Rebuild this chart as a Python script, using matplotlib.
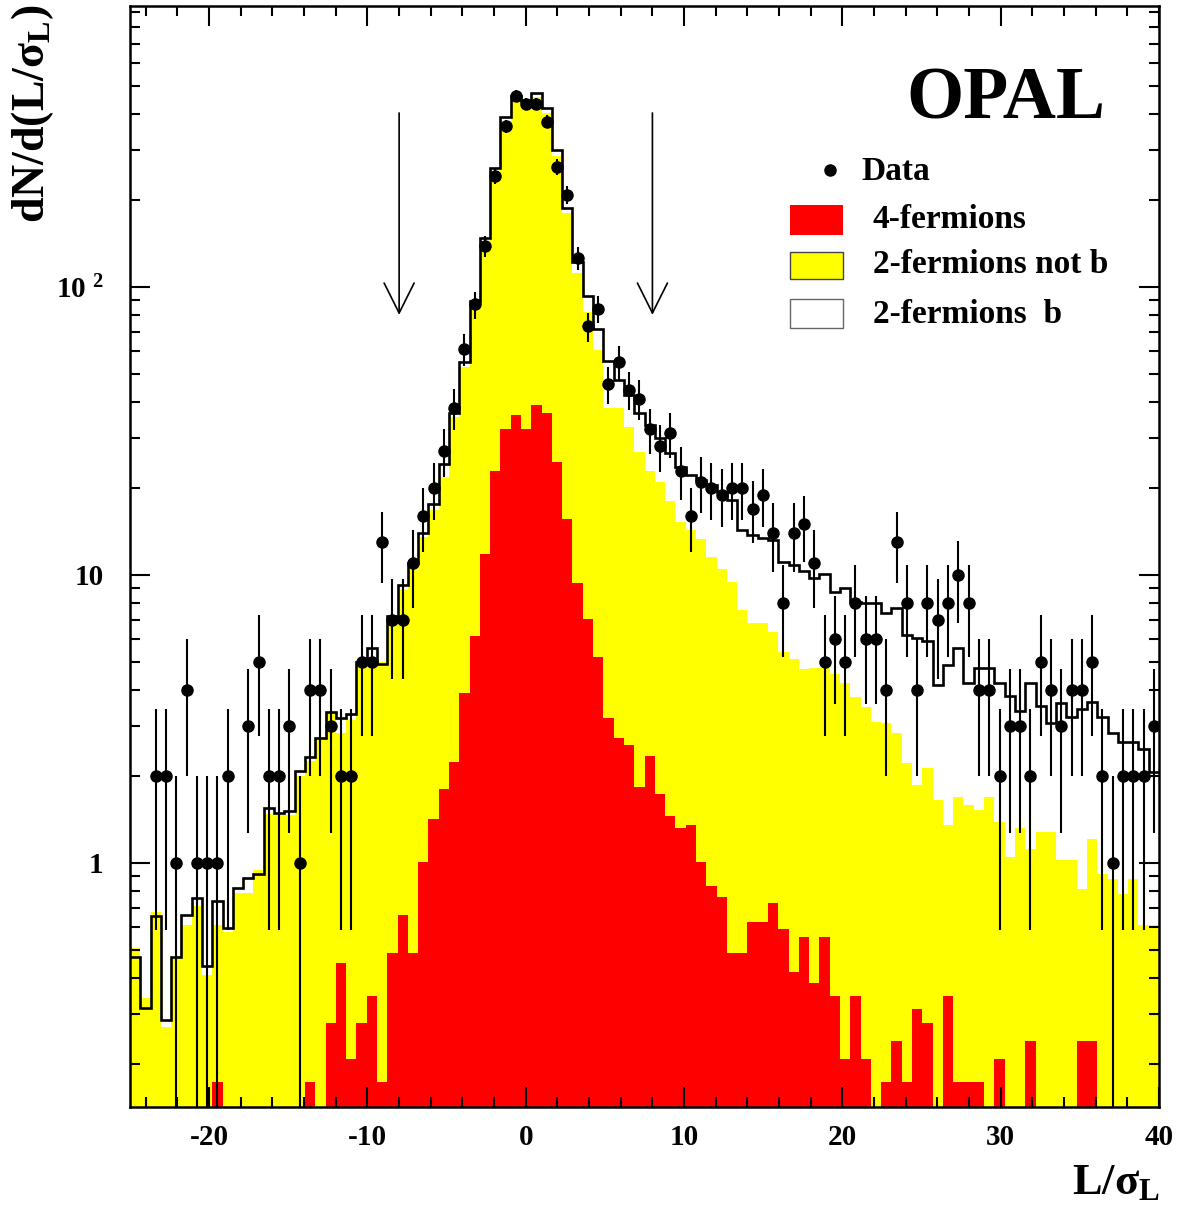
import numpy as np
import matplotlib
matplotlib.use("Agg")
import matplotlib.pyplot as plt
from matplotlib.patches import Rectangle

# ---------------- data ----------------
x_min, x_max, n_bins = -25.0, 40.0, 100
cut_values = [-8.0, 8.0]

four_fermions = [
    0, 0, 0, 0, 0, 0, 0, 0, 0.173, 0,
    0, 0, 0, 0, 0, 0, 0, 0.173, 0, 0.279,
    0.451, 0.209, 0.279, 0.346, 0.173, 0.486, 0.66, 0.486, 1.01, 1.42,
    1.80, 2.25, 3.88, 6.14, 11.8, 23.0, 32.1, 35.9, 32.2, 38.9,
    36.4, 24.7, 15.7, 9.36, 7.03, 5.18, 3.18, 2.71, 2.57, 1.83,
    2.36, 1.74, 1.46, 1.32, 1.355, 1.01, 0.834, 0.764, 0.486, 0.486,
    0.622, 0.622, 0.728, 0.59, 0.417, 0.552, 0.382, 0.552, 0.346, 0.208,
    0.346, 0.208, 0, 0.173, 0.241, 0.173, 0.311, 0.278, 0, 0.346,
    0.173, 0.173, 0.173, 0, 0.208, 0, 0, 0.241, 0, 0,
    0, 0, 0.241, 0.241, 0, 0, 0, 0, 0, 0,
]

# 4-fermions + 2-fermions (not b), stacked
two_fermions_not_b_stack = [
    0.506, 0.339, 0.677, 0.27, 0.473, 0.609, 0.709, 0.409, 0.609, 0.577,
    0.785, 0.785, 0.946, 1.48, 1.47, 1.47, 2.0, 2.26, 2.74, 3.31,
    2.83, 3.14, 5.0, 5.06, 5.0, 6.80, 8.88, 10.5, 13.6, 16.8,
    21.9, 35.5, 52.8, 85.6, 141, 245, 376, 446, 440, 458,
    401, 286, 180, 112, 82.1, 60.4, 37.9, 37.9, 32.7, 26.8,
    23.0, 21.1, 18.1, 15.3, 14.3, 13.3, 11.5, 10.5, 9.48, 7.56,
    6.80, 6.80, 6.36, 5.42, 5.10, 4.70, 4.74, 4.74, 4.53, 4.23,
    3.78, 3.47, 3.08, 3.06, 2.82, 2.23, 1.87, 2.14, 1.65, 1.36,
    1.69, 1.59, 1.53, 1.69, 1.39, 1.05, 1.32, 1.12, 1.28, 1.28,
    1.02, 1.02, 0.812, 1.21, 0.916, 0.878, 0.78, 0.878, 0.609, 0.609,
]

# total simulation (4f + 2f not b + 2f b)
total_mc = [
    0.473, 0.313, 0.656, 0.285, 0.473, 0.66, 0.754, 0.439, 0.738, 0.596,
    0.817, 0.889, 0.914, 1.55, 1.49, 1.52, 2.09, 2.34, 2.71, 3.35,
    3.18, 3.29, 5.0, 5.57, 4.91, 7.2, 9.23, 11.0, 13.96, 17.7,
    24.3, 36.4, 55.0, 89.4, 148, 258, 390, 460, 443, 473,
    417, 299, 188, 122, 93.0, 71.3, 55.2, 47.5, 42.2, 36.4,
    33.2, 29.8, 26.6, 23.7, 22.3, 21.4, 20.5, 19.4, 18.2, 14.3,
    13.8, 13.4, 13.2, 11.1, 10.8, 10.3, 9.73, 10.08, 8.75, 9.0,
    8.03, 7.97, 7.97, 7.40, 7.66, 6.19, 6.03, 5.91, 4.15, 4.87,
    5.59, 4.21, 4.74, 4.74, 4.23, 3.80, 3.37, 4.21, 3.52, 3.07,
    3.58, 3.21, 3.43, 3.61, 3.21, 2.83, 2.64, 2.64, 2.48, 2.07,
]

data_counts = [
    0, 0, 2, 2, 1, 4, 1, 1, 1, 2,
    0, 3, 5, 2, 2, 3, 1, 4, 4, 3,
    2, 2, 5, 5, 13, 7, 7, 11, 16, 20,
    27, 38, 61, 87, 139, 243, 362, 460, 431, 432,
    375, 262, 209, 126, 73, 84, 46, 55, 44, 41,
    32, 28, 31, 23, 16, 21, 20, 19, 20, 20,
    17, 19, 14, 8, 14, 15, 11, 5, 6, 5,
    8, 6, 6, 4, 13, 8, 4, 8, 7, 8,
    10, 8, 4, 4, 2, 3, 3, 2, 5, 4,
    3, 4, 4, 5, 2, 1, 2, 2, 2, 3,
]

x_ticks = [-20, -10, 0, 10, 20, 30, 40]
y_ticks = [1, 10, 100]
y_tick_labels = ["1", "10", "$10^{\\ 2}$"]
legend_labels = ["Data", "4-fermions", "2-fermions not b", "2-fermions  b"]

# ---------------- style ----------------
plt.rcParams["font.family"] = ["Liberation Serif", "DejaVu Serif"]
plt.rcParams["font.weight"] = "bold"
plt.rcParams["mathtext.default"] = "regular"

W, H = 1179, 1209
fig = plt.figure(figsize=(W / 100, H / 100), dpi=100)
ax = fig.add_axes([130 / W, 1 - 1107 / H, 1029 / W, 1101 / H])

edges = np.linspace(x_min, x_max, n_bins + 1)
centers = 0.5 * (edges[:-1] + edges[1:])
floor = 1e-3

red = np.array(four_fermions, float)
yel = np.array(two_fermions_not_b_stack, float)
tot = np.array(total_mc, float)
cnt = np.array(data_counts, float)

ax.set_yscale("log")
ax.stairs(np.where(yel > 0, yel, floor), edges, baseline=floor, fill=True,
          color="#ffff00", lw=0)
ax.stairs(np.where(red > 0, red, floor), edges, baseline=floor, fill=True,
          color="#ff0000", lw=0)
ax.stairs(tot, edges, baseline=None, color="black", lw=1.9)

m = cnt > 0
err = np.sqrt(cnt[m])
lo = np.minimum(err, cnt[m] - floor)
ax.errorbar(centers[m], cnt[m], yerr=[lo, err], fmt="o", color="black",
            ms=8, elinewidth=1.5, capsize=0, zorder=5)

# cut arrows
for c in cut_values:
    ax.annotate("", xy=(c, 80), xytext=(c, 402), xycoords="data",
                arrowprops=dict(arrowstyle="->,head_length=1.08,head_width=0.54",
                                mutation_scale=20, lw=1.2, color="black",
                                shrinkA=0, shrinkB=0))

ax.set_xlim(x_min, x_max)
ax.set_ylim(0.1421, 945.6)

ax.set_xticks(x_ticks)
ax.set_xticklabels([str(t) for t in x_ticks])
ax.xaxis.set_minor_locator(matplotlib.ticker.MultipleLocator(2))
ax.set_yticks(y_ticks)
ax.set_yticklabels(y_tick_labels)
ax.yaxis.set_minor_locator(matplotlib.ticker.LogLocator(base=10, subs=np.arange(2, 10)))
ax.yaxis.set_minor_formatter(matplotlib.ticker.NullFormatter())

ax.tick_params(which="both", direction="in", top=True, right=True, width=1.5,
               labelsize=21)
ax.tick_params(which="major", length=14.4)
ax.tick_params(which="minor", length=7.2)
ax.tick_params(axis="x", which="major", pad=12)
ax.tick_params(axis="y", which="major", pad=19)
for s in ax.spines.values():
    s.set_linewidth(1.8)

# axis titles
fig.text(33 / W, 1 - 4 / H, "dN/d(L/σ$_{L}$)", rotation=90, ha="center",
         va="top", fontsize=33, fontweight="bold")
fig.text(1160 / W, 1 - 1183 / H, "L/σ$_{L}$", ha="right", va="center",
         fontsize=32, fontweight="bold")

# OPAL label
ax.text(0.851, 0.914, "OPAL", transform=ax.transAxes, ha="center",
        va="center", fontsize=53, fontweight="bold")

# legend (manual, ROOT style)
ax.plot([0.680], [0.851], "o", color="black", ms=8, transform=ax.transAxes)
ax.text(0.711, 0.850, legend_labels[0], transform=ax.transAxes, va="center",
        fontsize=24, fontweight="bold")
ax.add_patch(Rectangle((0.641, 0.792), 0.0515, 0.0272, transform=ax.transAxes,
                       fc="#ff0000", ec="none"))
ax.text(0.722, 0.806, legend_labels[1], transform=ax.transAxes, va="center",
        fontsize=24, fontweight="bold")
ax.add_patch(Rectangle((0.641, 0.7518), 0.0515, 0.025, transform=ax.transAxes,
                       fc="#ffff00", ec="#444444", lw=1))
ax.text(0.722, 0.765, legend_labels[2], transform=ax.transAxes, va="center",
        fontsize=24, fontweight="bold")
ax.add_patch(Rectangle((0.641, 0.7073), 0.0515, 0.0263, transform=ax.transAxes,
                       fc="white", ec="#666666", lw=1))
ax.text(0.722, 0.720, legend_labels[3], transform=ax.transAxes, va="center",
        fontsize=24, fontweight="bold")

fig.savefig("out.png", dpi=100)
